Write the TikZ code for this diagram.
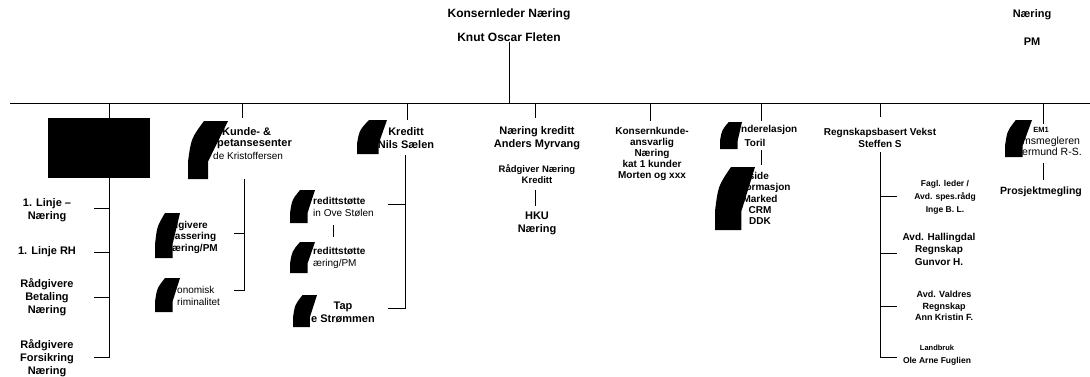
\documentclass[tikz,border=0pt]{standalone}
\usepackage{fontspec}
\setmainfont{Liberation Sans}
\usepackage{tikz}

\newcommand{\blob}[5]{\fill (#1+0.4*#3,#2) -- (#1+#3,#2) -- (#1+#5*#3,#2+0.7*#4) -- (#1+#5*#3,#2+#4) -- (#1,#2+#4) -- (#1,#2+0.7*#4) .. controls (#1+0.08*#3,#2+0.3*#4) .. (#1+0.4*#3,#2) -- cycle;}

\begin{document}
\begin{tikzpicture}[x=1pt,y=-1pt,
  txt/.style={font=\bfseries\fontsize{10}{11.5}\selectfont,align=center,inner sep=0pt},
  big/.style={txt,font=\bfseries\fontsize{11}{13}\selectfont},
  head/.style={txt,font=\bfseries\fontsize{12}{14}\selectfont},
  plain/.style={txt,font=\fontsize{10}{11.5}\selectfont},
  line/.style={line width=0.9pt}]
\useasboundingbox (0,0) rectangle (1090,376);

\node[head] (konsern) at (509,14) {Konsernleder Næring};
\node[head] (knut)    at (509,37) {Knut Oscar Fleten};
\node[big]  (naering) at (1032,15) {Næring};
\node[big]  (pm)      at (1032,42) {PM};

\node[fill=black,minimum width=102pt,minimum height=60pt,inner sep=0pt] (box) at (99,148) {};
\node[big] (linje)      at (47,210) {1. Linje –\\Næring};
\node[big] (linjerh)    at (47,252) {1. Linje RH};
\node[big] (betaling)   at (47,297) {Rådgivere\\Betaling\\Næring};
\node[big] (forsikring) at (47,358) {Rådgivere\\Forsikring\\Næring};

\node[big,anchor=west]   (kunde)         at (222,132) {Kunde- \&};
\node[big,anchor=west]   (kompetanse)    at (217,144) {petansesenter};
\node[plain,anchor=west] (kristoffersen) at (213,156) {de Kristoffersen};
\node[txt,anchor=west,align=left]   (klassering) at (172,237) {dgivere\\lassering\\æring/PM};
\node[plain,anchor=west,align=left] (okonomisk)  at (177,296) {onomisk\\riminalitet};

\node[big] (kreditt) at (406,138) {Kreditt\\Nils Sælen};
\node[txt,anchor=west,align=left] (stotte1) at (313,207) {redittstøtte\\{\mdseries in Ove Stølen}};
\node[txt,anchor=west,align=left] (stotte2) at (313,258) {redittstøtte\\{\mdseries æring/PM}};
\node[big] (tap) at (343,312) {Tap\\e Strømmen};

\node[big] (nkreditt) at (537,138) {Næring kreditt\\Anders Myrvang};
\node[txt,font=\bfseries\fontsize{9.5}{11}\selectfont] (radgiver) at (537,174) {Rådgiver Næring\\Kreditt};
\node[big] (hku) at (537,223) {HKU\\Næring};

\node[txt,font=\bfseries\fontsize{10}{11}\selectfont] (kk) at (652,154) {Konsernkunde-\\ansvarlig\\Næring\\kat 1 kunder\\Morten og xxx};

\node[txt,anchor=west] (kunderel) at (741,130) {nderelasjon};
\node[txt] (toril) at (755,143) {Toril};
\node[txt,anchor=west,align=left,font=\bfseries\fontsize{10}{11}\selectfont] (nettside) at (742,182) {ttside\\formasjon};
\node[txt,font=\bfseries\fontsize{10}{11}\selectfont] (marked) at (760,210) {Marked\\CRM\\DDK};

\node[txt] (regnskap) at (880,138) {Regnskapsbasert Vekst\\Steffen S};
\node[txt,font=\bfseries\fontsize{8.5}{13}\selectfont] (fagl) at (945,197) {Fagl. leder /\\Avd. spes.rådg\\Inge B. L.};
\node[txt,font=\bfseries\fontsize{10}{12.5}\selectfont] (hallingdal) at (939,249) {Avd. Hallingdal\\Regnskap\\Gunvor H.};
\node[txt,font=\bfseries\fontsize{9}{11.5}\selectfont] (valdres) at (944,306) {Avd. Valdres\\Regnskap\\Ann Kristin F.};
\node[txt,font=\bfseries\fontsize{8.5}{13}\selectfont] (landbruk) at (937,355) {{\fontsize{7.5}{13}\selectfont Landbruk}\\Ole Arne Fuglien};

\node[txt,font=\bfseries\fontsize{7.5}{9}\selectfont] (em1) at (1041,130) {EM1};
\node[plain,anchor=west,align=left,font=\fontsize{10.5}{10.5}\selectfont] (megler) at (1022,146) {msmegleren\\ermund R-S.};
\node[txt,font=\bfseries\fontsize{10.5}{12}\selectfont] (prosjekt) at (1041,192) {Prosjektmegling};

\coordinate (hl) at (10,103);
\coordinate (hr) at (1090,103);
\coordinate (d1) at (109,103);
\coordinate (d2) at (242,103);
\coordinate (d3) at (407,103);
\coordinate (d4) at (535,103);
\coordinate (d5) at (650,103);
\coordinate (d6) at (761,103);
\coordinate (d7) at (880,103);
\coordinate (d8) at (1043,103);
\draw[line] (hl) -- (hr);
\draw[line] (knut.south) -- (knut.south |- hl);

\coordinate (l1) at (109,208);  \coordinate (l1t) at (94,208);
\coordinate (l2) at (109,252);  \coordinate (l2t) at (94,252);
\coordinate (l3) at (109,297);  \coordinate (l3t) at (94,297);
\coordinate (l4) at (109,357);  \coordinate (l4t) at (94,357);
\draw[line] (d1) -- (d1 |- box.north);
\draw[line] (box.south -| l1) -- (l4) -- (l4t);
\draw[line] (l1) -- (l1t);
\draw[line] (l2) -- (l2t);
\draw[line] (l3) -- (l3t);

\coordinate (k0) at (242,118);
\coordinate (k1) at (244,179);
\coordinate (k2) at (244,233);  \coordinate (k2t) at (234,233);
\coordinate (k3) at (244,290);  \coordinate (k3t) at (234,290);
\draw[line] (d2) -- (k0);
\draw[line] (k1) -- (k3) -- (k3t);
\draw[line] (k2) -- (k2t);

\coordinate (c0) at (407,120);
\coordinate (c1) at (405,155);
\coordinate (c2) at (405,204);  \coordinate (c2t) at (388,204);
\coordinate (c3) at (405,308);  \coordinate (c3t) at (388,308);
\coordinate (c4) at (333,225);  \coordinate (c5) at (333,237);
\draw[line] (d3) -- (c0);
\draw[line] (c1) -- (c3) -- (c3t);
\draw[line] (c2) -- (c2t);
\draw[line] (c4) -- (c5);

\coordinate (n0) at (535,118);
\coordinate (n1) at (535,190);
\coordinate (n2) at (535,206);
\draw[line] (d4) -- (n0);
\draw[line] (n1) -- (n2);

\coordinate (m0) at (650,121);
\draw[line] (d5) -- (m0);

\coordinate (u0) at (761,121);
\coordinate (u1) at (761,150);
\coordinate (u2) at (761,165);
\draw[line] (d6) -- (u0);
\draw[line] (u1) -- (u2);

\coordinate (r0) at (880,117);
\coordinate (r1) at (880,152);
\coordinate (r2) at (880,196);  \coordinate (r2t) at (897,196);
\coordinate (r3) at (880,253);  \coordinate (r3t) at (897,253);
\coordinate (r4) at (880,306);  \coordinate (r4t) at (897,306);
\coordinate (r5) at (880,357);  \coordinate (r5t) at (897,357);
\draw[line] (d7) -- (r0);
\draw[line] (r1) -- (r5) -- (r5t);
\draw[line] (r2) -- (r2t);
\draw[line] (r3) -- (r3t);
\draw[line] (r4) -- (r4t);

\coordinate (e0) at (1043,124);
\coordinate (e1) at (1043,163);
\coordinate (e2) at (1043,180);
\draw[line] (d8) -- (e0);
\draw[line] (e1) -- (e2);

\blob{188}{121}{40}{58}{0.5}
\blob{155}{213}{25}{45}{0.7}
\blob{155}{278}{25}{34}{0.7}
\blob{357}{120}{30}{34}{0.72}
\blob{290}{190}{25}{33}{0.7}
\blob{290}{242}{25}{31}{0.7}
\blob{293}{295}{24}{32}{0.7}
\blob{720}{122}{22}{27}{0.8}
\blob{715}{167}{40}{63}{0.66}
\blob{1005}{120}{27}{37}{0.65}
\end{tikzpicture}
\end{document}
